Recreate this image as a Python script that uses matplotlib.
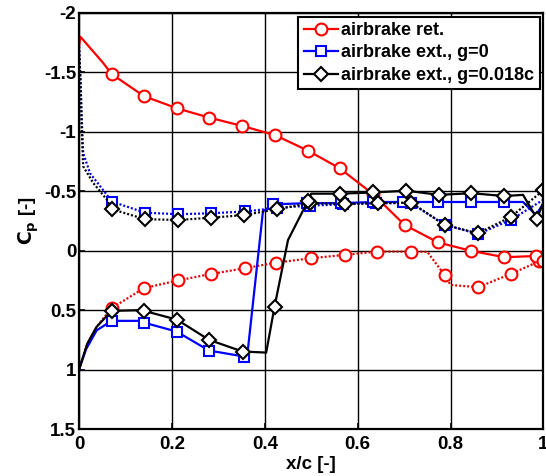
import matplotlib
matplotlib.use("Agg")
import matplotlib.pyplot as plt

# ---------------- data ----------------
# airbrake retracted, suction side (solid)
ret_up_x = [0.0, 0.003, 0.052, 0.070, 0.140, 0.211, 0.280, 0.351, 0.421, 0.493, 0.561, 0.632,
            0.701, 0.773, 0.843, 0.916, 0.984, 1.0]
ret_up_cp = [-1.72, -1.80, -1.58, -1.487, -1.30, -1.198, -1.12, -1.05, -0.974, -0.842, -0.694, -0.48,
             -0.217, -0.07, 0.0, 0.055, 0.044, 0.09]
ret_up_mark = [3, 4, 5, 6, 7, 8, 9, 10, 11, 12, 13, 14, 15, 16, 17]

# airbrake retracted, pressure side (dotted)
ret_lo_x = [0.0, 0.018, 0.038, 0.070, 0.140, 0.213, 0.285, 0.357, 0.425, 0.500, 0.572, 0.641,
            0.715, 0.750, 0.787, 0.800, 0.859, 0.930, 0.990, 1.0]
ret_lo_cp = [1.0, 0.78, 0.64, 0.483, 0.315, 0.25, 0.195, 0.147, 0.10, 0.063, 0.035, 0.007,
             0.007, 0.01, 0.204, 0.288, 0.307, 0.195, 0.09, 0.06]
ret_lo_mark = [3, 4, 5, 6, 7, 8, 9, 10, 11, 12, 14, 16, 17, 18]

# airbrake extended, g=0, upper (dotted)
g0_up_x = [0.0, 0.003, 0.006, 0.009, 0.024, 0.052, 0.071, 0.142, 0.214, 0.285, 0.357, 0.427,
           0.497, 0.568, 0.640, 0.715, 0.787, 0.859, 0.930, 1.0]
g0_up_cp = [-1.72, -1.45, -1.10, -0.82, -0.65, -0.51, -0.413, -0.32, -0.307, -0.315, -0.33, -0.36,
            -0.38, -0.39, -0.40, -0.40, -0.22, -0.14, -0.26, -0.43]
g0_up_mark = [6, 7, 8, 9, 10, 11, 12, 13, 14, 15, 16, 17, 18]

# airbrake extended, g=0, lower (solid)
g0_lo_x = [0.0, 0.015, 0.038, 0.070, 0.130, 0.140, 0.210, 0.280, 0.355, 0.362, 0.396, 0.418,
           0.490, 0.565, 0.633, 0.697, 0.773, 0.845, 0.916, 0.956, 0.984, 1.0]
g0_lo_cp = [1.0, 0.83, 0.67, 0.59, 0.59, 0.605, 0.68, 0.84, 0.89, 0.89, -0.33, -0.39,
            -0.40, -0.40, -0.41, -0.41, -0.41, -0.41, -0.41, -0.41, -0.30, -0.40]
g0_lo_mark = [3, 5, 6, 7, 8, 11, 12, 13, 14, 15, 16, 17, 18]

# airbrake extended, g=0.018c, upper (dotted)
g18_up_x = [0.0, 0.003, 0.006, 0.009, 0.031, 0.060, 0.070, 0.142, 0.214, 0.285, 0.355, 0.427,
            0.497, 0.572, 0.643, 0.715, 0.787, 0.859, 0.930, 1.0]
g18_up_cp = [-1.72, -1.45, -1.0, -0.71, -0.568, -0.43, -0.35, -0.265, -0.259, -0.278, -0.30, -0.35,
             -0.40, -0.394, -0.40, -0.405, -0.217, -0.147, -0.285, -0.51]
g18_up_mark = [6, 7, 8, 9, 10, 11, 12, 13, 14, 15, 16, 17, 18, 19]

# airbrake extended, g=0.018c, lower (solid)
g18_lo_x = [0.0, 0.018, 0.038, 0.070, 0.130, 0.140, 0.211, 0.280, 0.352, 0.403, 0.421, 0.450,
            0.493, 0.500, 0.561, 0.633, 0.705, 0.775, 0.845, 0.916, 0.956, 0.986, 1.0]
g18_lo_cp = [1.0, 0.78, 0.64, 0.506, 0.50, 0.506, 0.58, 0.75, 0.848, 0.857, 0.47, -0.09,
             -0.42, -0.48, -0.48, -0.49, -0.505, -0.47, -0.484, -0.46, -0.47, -0.27, -0.41]
g18_lo_mark = [3, 5, 6, 7, 8, 10, 12, 14, 15, 16, 17, 18, 19, 21]

legend_labels = ["airbrake ret.", "airbrake ext., g=0", "airbrake ext., g=0.018c"]
x_ticks = [0, 0.2, 0.4, 0.6, 0.8, 1]
x_ticklabels = ["0", "0.2", "0.4", "0.6", "0.8", "1"]
y_ticks = [-2, -1.5, -1, -0.5, 0, 0.5, 1, 1.5]
y_ticklabels = ["-2", "-1.5", "-1", "-0.5", "0", "0.5", "1", "1.5"]

# ---------------- plot ----------------
plt.rcParams['font.family'] = ['Liberation Sans', 'DejaVu Sans']
plt.rcParams['font.weight'] = 'bold'

fig = plt.figure(figsize=(5.46, 4.76), dpi=100)
ax = fig.add_axes([0.1447, 0.0987, 0.8507, 0.874])

dot = (0, (0.9, 0.9))
lw = 1.6

ax.plot(ret_lo_x, ret_lo_cp, color='#e00000', ls=dot, lw=lw, marker='o', ms=8.5,
        mfc='white', mec='red', mew=1.5, markevery=ret_lo_mark)
l1, = ax.plot(ret_up_x, ret_up_cp, color='red', ls='-', lw=lw, marker='o', ms=8.5,
              mfc='white', mec='red', mew=1.5, markevery=ret_up_mark)

ax.plot(g0_up_x, g0_up_cp, color='#0000e0', ls=dot, lw=lw, marker='s', ms=7.5,
        mfc='white', mec='blue', mew=1.5, markevery=g0_up_mark)
l2, = ax.plot(g0_lo_x, g0_lo_cp, color='blue', ls='-', lw=lw, marker='s', ms=7.5,
              mfc='white', mec='blue', mew=1.5, markevery=g0_lo_mark)

ax.plot(g18_up_x, g18_up_cp, color='black', ls=dot, lw=lw, marker='D', ms=6.8,
        mfc='white', mec='black', mew=1.5, markevery=g18_up_mark)
l3, = ax.plot(g18_lo_x, g18_lo_cp, color='black', ls='-', lw=lw, marker='D', ms=6.8,
              mfc='white', mec='black', mew=1.5, markevery=g18_lo_mark)

ax.set_xlim(0, 1)
ax.set_ylim(1.5, -2)
ax.set_xticks(x_ticks)
ax.set_xticklabels(x_ticklabels)
ax.set_yticks(y_ticks)
ax.set_yticklabels(y_ticklabels)
ax.tick_params(labelsize=13.5, direction='in', length=4, width=1.2)
ax.tick_params(axis='x', pad=5)
ax.tick_params(axis='y', pad=2)
for t in ax.get_xticklabels() + ax.get_yticklabels():
    t.set_fontweight('bold')
ax.grid(True, color='black', lw=1.0, ls='-')
ax.set_axisbelow(True)
for s in ax.spines.values():
    s.set_linewidth(1.6)
    s.set_color('black')

ax.set_xlabel('x/c [-]', fontsize=13.5, fontweight='bold', labelpad=2)
ax.set_ylabel(r'$\mathbf{C_p}$ [-]', fontsize=13.5, fontweight='bold', labelpad=2)

leg = ax.legend([l1, l2, l3], legend_labels, loc='upper right',
                frameon=True, fancybox=False, framealpha=1, edgecolor='black',
                handlelength=1.9, handletextpad=0.2, borderpad=0.3,
                labelspacing=0.3, borderaxespad=0.2, prop={'weight': 'bold', 'size': 13})
leg.get_frame().set_linewidth(1.5)

fig.savefig('out.png', dpi=100)
